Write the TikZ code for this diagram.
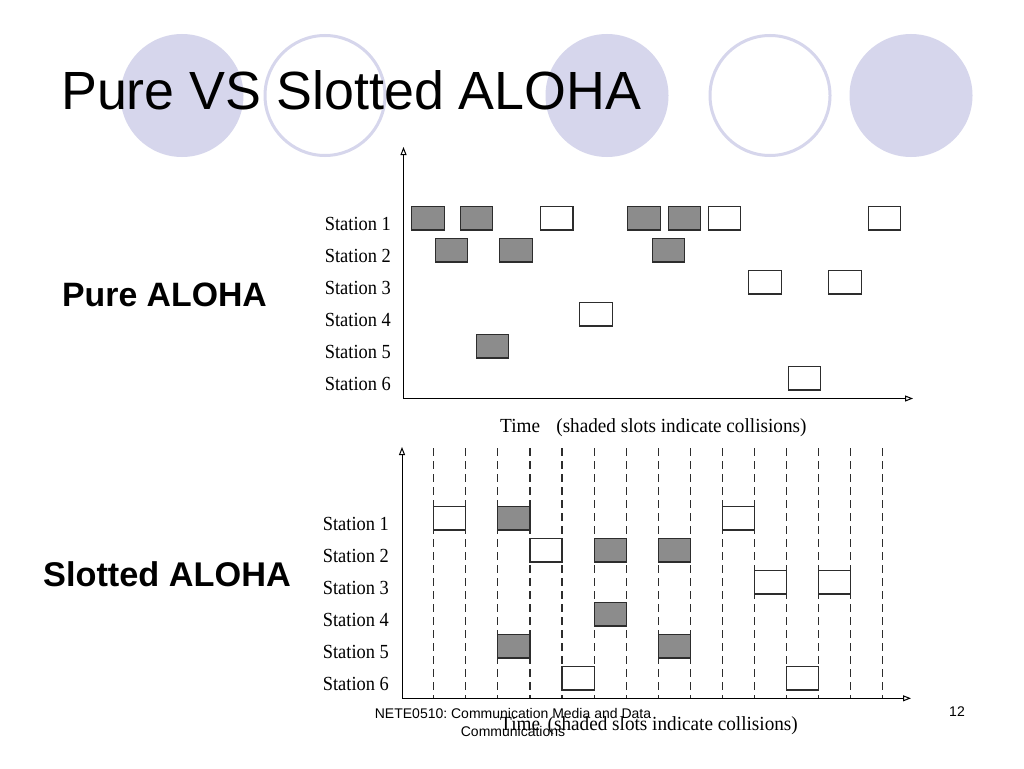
\documentclass[tikz,border=0pt]{standalone}
\usepackage{fontspec}
\setmainfont{Liberation Serif}
\newfontfamily\arialfont{Liberation Sans}
\usetikzlibrary{arrows.meta}
\definecolor{bubble}{RGB}{214,214,236}
\definecolor{hitgray}{RGB}{140,140,140}
\definecolor{edgegray}{RGB}{45,45,45}
\tikzset{>={Triangle[open,length=8pt,width=6pt]}}
\frenchspacing

\begin{document}
\begin{tikzpicture}[x=1pt,y=-1pt,
    stlabel/.style={anchor=base east,inner sep=0,xscale=0.92,font=\fontsize{20}{24}\selectfont},
    caption/.style={anchor=base west,inner sep=0,xscale=0.96,font=\fontsize{20}{24}\selectfont},
    slotbox/.style={draw=edgegray,line width=1.1pt,fill=white,minimum width=32.5pt,minimum height=23.3pt,inner sep=0},
    hit/.style={slotbox,fill=hitgray},
    slotline/.style={draw=edgegray,line width=1.1pt,dash pattern=on 8pt off 5pt}]
    \useasboundingbox (0,0) rectangle (1024,768);
    \fill[white] (0,0) rectangle (1024,768);
    % bubbles behind the title
    \foreach \cx in {182,607,911} \fill[bubble] (\cx,95.5) circle (61.5pt);
    \foreach \cx in {325,770} \draw[bubble,line width=3pt] (\cx,95.5) circle (60pt);
    \node[anchor=base west,inner sep=0,font=\arialfont\fontsize{53.8}{60}\selectfont] (title) at (61,109.5) {Pure VS Slotted ALOHA};
    \node[anchor=base west,inner sep=0,font=\arialfont\bfseries\fontsize{33.8}{40}\selectfont] (pure) at (62,306) {Pure ALOHA};
    \node[anchor=base west,inner sep=0,font=\arialfont\bfseries\fontsize{34.3}{40}\selectfont] (slotted) at (43,586.5) {Slotted ALOHA};

    % pure ALOHA
    \coordinate (o1) at (403.5,398.5);
    \coordinate (y1) at (403.5,147);
    \coordinate (x1) at (913,398.5);
    \draw[->,line width=1pt] (o1) -- (y1);
    \draw[->,line width=1pt] (o1) -- (x1);
    \foreach \r in {1,...,6}
      \node[stlabel] (pl\r) at (391,{230+32*(\r-1)}) {Station \r};
    \foreach \x/\r/\s [count=\i] in {411.6/1/hit,460.3/1/hit,540.5/1/slotbox,627.9/1/hit,668.2/1/hit,708.2/1/slotbox,868.3/1/slotbox,
        435.3/2/hit,499.8/2/hit,652.4/2/hit,748.9/3/slotbox,828.8/3/slotbox,579.7/4/slotbox,476.1/5/hit,788.4/6/slotbox}
      \node[\s] (pf\i) at ({\x+16.25},{218.3+32*(\r-1)}) {};
    \node[caption] (pcap) at (500,432) {Time\hspace{12pt} (shaded slots indicate collisions)};

    % slotted ALOHA
    \coordinate (o2) at (402,698.3);
    \coordinate (y2) at (402,447);
    \coordinate (x2) at (911,698.3);
    \foreach \k in {0,...,14}
      \draw[slotline] ({433.8+32.06*\k},448) -- ({433.8+32.06*\k},698.3);
    \draw[->,line width=1pt] (o2) -- (y2);
    \draw[->,line width=1pt] (o2) -- (x2);
    \foreach \r in {1,...,6}
      \node[stlabel] (sl\r) at (389,{530+32*(\r-1)}) {Station \r};
    \foreach \k/\r/\s [count=\i] in {0/1/slotbox,2/1/hit,9/1/slotbox,3/2/slotbox,5/2/hit,7/2/hit,10/3/slotbox,12/3/slotbox,
        5/4/hit,2/5/hit,7/5/hit,4/6/slotbox,11/6/slotbox}
      \node[\s,minimum width=32.06pt] (sf\i) at ({449.83+32.06*\k},{518.3+32*(\r-1)}) {};
    \node[caption] (scap) at (500,730) {Time\hspace{3pt} (shaded slots indicate collisions)};

    % footer
    \node[align=center,inner sep=0,font=\arialfont\fontsize{14}{18}\selectfont] (foot) at (513,722) {NETE0510: Communication Media and Data\\Communications};
    \node[inner sep=0,font=\arialfont\fontsize{14}{18}\selectfont] (page) at (957,712) {12};
\end{tikzpicture}
\end{document}
